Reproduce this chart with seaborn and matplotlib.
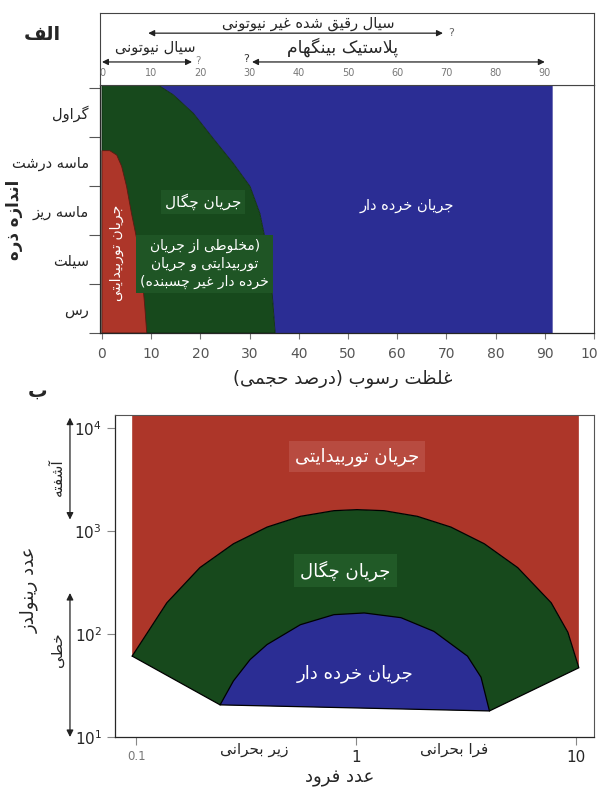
import matplotlib
matplotlib.use("Agg")
import matplotlib.pyplot as plt
import seaborn as sns

# ---------------- panel الف : concentration vs grain size ----------------
size_classes = ["رس", "سیلت", "ماسه ریز", "ماسه درشت", "گراول"]
size_edges = [0, 1, 2, 3, 4, 5]
size_top = 5.06
conc_ticks = [0, 10, 20, 30, 40, 50, 60, 70, 80, 90, 100]
header_ticks = [0, 10, 20, 30, 40, 50, 60, 70, 80, 90]

# turbidity current (red) outline
turb_conc = [0, 0, 1.6, 3.0, 4.0, 5.0, 6.0, 7.1, 8.1, 8.7, 9.1]
turb_size = [0, 3.72, 3.72, 3.63, 3.40, 2.99, 2.44, 1.90, 1.22, 0.54, 0]

# dense flow / debris flow boundary (green | blue)
dense_conc = [11.4, 14.5, 18.6, 22.6, 26.7, 30.1, 32.1, 33.5, 34.5, 35.2]
dense_size = [5.06, 4.86, 4.48, 3.97, 3.46, 2.99, 2.44, 1.76, 0.95, 0]
debris_limit = 91.6

# ---------------- panel ب : Froude vs Reynolds ----------------
froude_ticks = [0.1, 1, 10]
reynolds_ticks = [10, 100, 1000, 10000]
froude_lim = (0.0802, 12.07)
reynolds_lim = (10, 13360)

outer_fr = [0.096, 0.138, 0.195, 0.277, 0.394, 0.558, 0.793, 1.01, 1.34,
            1.90, 2.70, 3.83, 5.43, 7.71, 9.18, 10.3]
outer_re = [61, 201, 441, 751, 1091, 1387, 1574, 1611, 1574,
            1387, 1091, 751, 441, 201, 104, 47]
inner_fr = [0.241, 0.277, 0.330, 0.394, 0.558, 0.793, 1.09, 1.60, 2.26,
            3.21, 3.70, 4.04]
inner_re = [20.5, 35, 56.5, 79, 123, 154, 160, 144, 106, 61, 38, 17.9]

RED = "#ad3629"
GREEN = "#17491c"
BLUE = "#2b2d94"

# --- minimal Persian shaping (matplotlib has no complex text layout) ---
_forms = {
    "ا": (0xFE8D, 0xFE8E), "آ": (0xFE81, 0xFE82),
    "د": (0xFEA9, 0xFEAA), "ذ": (0xFEAB, 0xFEAC), "ر": (0xFEAD, 0xFEAE),
    "ز": (0xFEAF, 0xFEB0), "ژ": (0xFB8A, 0xFB8B), "و": (0xFEED, 0xFEEE),
    "ب": (0xFE8F, 0xFE90, 0xFE91, 0xFE92), "پ": (0xFB56, 0xFB57, 0xFB58, 0xFB59),
    "ت": (0xFE95, 0xFE96, 0xFE97, 0xFE98), "ث": (0xFE99, 0xFE9A, 0xFE9B, 0xFE9C),
    "ج": (0xFE9D, 0xFE9E, 0xFE9F, 0xFEA0), "چ": (0xFB7A, 0xFB7B, 0xFB7C, 0xFB7D),
    "ح": (0xFEA1, 0xFEA2, 0xFEA3, 0xFEA4), "خ": (0xFEA5, 0xFEA6, 0xFEA7, 0xFEA8),
    "س": (0xFEB1, 0xFEB2, 0xFEB3, 0xFEB4), "ش": (0xFEB5, 0xFEB6, 0xFEB7, 0xFEB8),
    "ص": (0xFEB9, 0xFEBA, 0xFEBB, 0xFEBC), "ض": (0xFEBD, 0xFEBE, 0xFEBF, 0xFEC0),
    "ط": (0xFEC1, 0xFEC2, 0xFEC3, 0xFEC4), "ظ": (0xFEC5, 0xFEC6, 0xFEC7, 0xFEC8),
    "ع": (0xFEC9, 0xFECA, 0xFECB, 0xFECC), "غ": (0xFECD, 0xFECE, 0xFECF, 0xFED0),
    "ف": (0xFED1, 0xFED2, 0xFED3, 0xFED4), "ق": (0xFED5, 0xFED6, 0xFED7, 0xFED8),
    "ک": (0xFB8E, 0xFB8F, 0xFB90, 0xFB91), "گ": (0xFB92, 0xFB93, 0xFB94, 0xFB95),
    "ل": (0xFEDD, 0xFEDE, 0xFEDF, 0xFEE0), "م": (0xFEE1, 0xFEE2, 0xFEE3, 0xFEE4),
    "ن": (0xFEE5, 0xFEE6, 0xFEE7, 0xFEE8), "ه": (0xFEE9, 0xFEEA, 0xFEEB, 0xFEEC),
    "ی": (0xFBFC, 0xFBFD, 0xFBFE, 0xFBFF),
}
_lam_alef = {"ا": (0xFEFB, 0xFEFC), "آ": (0xFEF5, 0xFEF6)}
_mirror = {"(": ")", ")": "("}


def _shape_line(s):
    out = []
    prev_joins = False
    i = 0
    while i < len(s):
        c = s[i]
        f = _forms.get(c)
        if f is None:
            out.append(_mirror.get(c, c))
            prev_joins = False
            i += 1
            continue
        if c == "ل" and i + 1 < len(s) and s[i + 1] in _lam_alef:
            iso, fin = _lam_alef[s[i + 1]]
            out.append(chr(fin if prev_joins else iso))
            prev_joins = False
            i += 2
            continue
        nxt = s[i + 1] if i + 1 < len(s) else ""
        to_next = len(f) == 4 and nxt in _forms
        if prev_joins:
            g = f[3] if to_next else f[1]
        else:
            g = f[2] if to_next else f[0]
        out.append(chr(g))
        prev_joins = len(f) == 4
        i += 1
    return "".join(reversed(out))


def fa(text):
    return "\n".join(_shape_line(line) for line in text.split("\n"))


sns.set_style("ticks")
plt.rcParams["font.family"] = ["DejaVu Sans"]
plt.rcParams["axes.linewidth"] = 0.9

fig = plt.figure(figsize=(5.98, 7.93), dpi=100)
W, H = 598.0, 793.0

# ======================= panel الف =======================
ax = fig.add_axes([100 / W, 1 - 333 / H, 494 / W, 248 / H])
head = fig.add_axes([100 / W, 1 - 85 / H, 494 / W, 72 / H], sharex=ax)

blue_x = dense_conc + [debris_limit, debris_limit]
blue_y = dense_size + [0, size_top]
ax.fill(blue_x, blue_y, color=BLUE, lw=0)
ax.fill([0, 0] + dense_conc, [0, size_top] + dense_size, color=GREEN,
        ec="#0d2a10", lw=0.6)
ax.fill(turb_conc, turb_size, color=RED, ec="#5a1a12", lw=0.6)

ax.set_xlim(-0.4, 100)
ax.set_ylim(0, size_top)
ax.set_xticks(conc_ticks)
ax.set_xticklabels([str(t) for t in conc_ticks], fontsize=10, color="#555555")
ax.tick_params(axis="x", which="major", length=4, color="#777777", pad=6,
               top=False)

ax.set_yticks(size_edges)
ax.set_yticklabels([])
ax.set_yticks([e + 0.5 for e in size_edges[:-1]], minor=True)
ax.set_yticklabels([fa(s) for s in size_classes], minor=True, fontsize=10.5)
ax.tick_params(axis="y", which="major", length=8, color="#555555")
ax.tick_params(axis="y", which="minor", length=0, pad=8)

# upper scale inside the header box
ax.set_xticks(header_ticks, minor=True)
ax.tick_params(axis="x", which="minor", top=True, bottom=False, length=5,
               color="#777777", direction="out")
for t in header_ticks:
    head.text(t, 0.16, str(t), ha="center", va="center", fontsize=7,
              color="#777777")

for sp in ["top", "right"]:
    ax.spines[sp].set_color("#444444")
    ax.spines[sp].set_linewidth(0.8)

ax.text(62, 2.6, fa("جریان خرده دار"), color="white", fontsize=10.5,
        ha="center", va="center")
ax.text(20.5, 2.67, fa("جریان چگال"), color="white", fontsize=11,
        ha="center", va="center",
        bbox=dict(boxstyle="square,pad=0.25", fc="#1f5525", ec="none"))
ax.text(20.9, 1.41, fa("(مخلوطی از جریان\nتوربیدایتی و جریان\nخرده دار غیر چسبنده)"),
        color="white", fontsize=10, ha="center", va="center",
        multialignment="center", linespacing=1.35,
        bbox=dict(boxstyle="square,pad=0.3", fc="#1f5525", ec="none"))
ax.text(3.1, 1.63, fa("جریان توربیدایتی"), color="white", fontsize=10,
        rotation=90, ha="center", va="center")

ax.set_xlabel(fa("غلظت رسوب (درصد حجمی)"), fontsize=13)
ax.xaxis.set_label_coords(0.492, -0.148)
ax.set_ylabel(fa("اندازه ذره"), fontsize=12, fontweight="bold")
ax.yaxis.set_label_coords(-0.156, 0.456)

# header box
head.set_ylim(0, 1)
head.tick_params(left=False, bottom=False, labelleft=False, labelbottom=False)
for sp in head.spines.values():
    sp.set_color("#444444")
    sp.set_linewidth(0.8)

arrow = dict(arrowstyle="<|-|>", color="#222222", lw=0.9, mutation_scale=9,
             shrinkA=0, shrinkB=0)
head.annotate("", xy=(69.3, 0.72), xytext=(9.4, 0.72), arrowprops=arrow)
head.annotate("", xy=(18.3, 0.32), xytext=(0, 0.32), arrowprops=arrow)
head.annotate("", xy=(90, 0.32), xytext=(30.5, 0.32), arrowprops=arrow)
head.text(70.4, 0.72, "?", fontsize=8, color="#666666", va="center")
head.text(19.0, 0.34, "?", fontsize=7.5, color="#888888", va="center")
head.text(29.8, 0.36, "?", fontsize=8, color="#333333", va="center", ha="right")
head.text(42, 0.86, fa("سیال رقیق شده غیر نیوتونی"), fontsize=10.5,
          ha="center", va="center")
head.text(10.8, 0.52, fa("سیال نیوتونی"), fontsize=10.5, ha="center",
          va="center")
head.text(48.8, 0.53, fa("پلاستیک بینگهام"), fontsize=12.5, ha="center",
          va="center")

fig.text(42 / W, 1 - 35 / H, fa("الف"), fontsize=14, fontweight="bold",
         ha="center", va="center")

# ======================= panel ب =======================
axb = fig.add_axes([115 / W, 1 - 737 / H, 479 / W, 322 / H])
axb.set_xscale("log")
axb.set_yscale("log")
axb.set_xlim(*froude_lim)
axb.set_ylim(*reynolds_lim)

red_x = [outer_fr[0], outer_fr[-1]] + outer_fr[::-1]
red_y = [reynolds_lim[1], reynolds_lim[1]] + outer_re[::-1]
axb.fill(red_x, red_y, color=RED, lw=0)
green_x = outer_fr + [inner_fr[-1], inner_fr[0]]
green_y = outer_re + [inner_re[-1], inner_re[0]]
axb.fill(green_x, green_y, color=GREEN, lw=0)
axb.fill(inner_fr, inner_re, color=BLUE, lw=0)

# outlines
sns.lineplot(x=green_x + [green_x[0]], y=green_y + [green_y[0]], sort=False,
             estimator=None, color="black", lw=0.9, ax=axb)
sns.lineplot(x=inner_fr, y=inner_re, sort=False, estimator=None,
             color="black", lw=0.9, ax=axb)

axb.set_yticks(reynolds_ticks)
axb.set_yticklabels([r"$\mathdefault{10^{%d}}$" % k for k in range(1, 5)],
                    fontsize=11)
axb.yaxis.set_minor_locator(matplotlib.ticker.NullLocator())
axb.set_xticks(froude_ticks)
axb.set_xticklabels(["0.1", "1", "10"])
axb.xaxis.set_minor_locator(matplotlib.ticker.NullLocator())
xl = axb.get_xticklabels()
xl[0].set_fontsize(8.5)
xl[0].set_color("#777777")
for lab in xl[1:]:
    lab.set_fontsize(11)
axb.tick_params(axis="both", length=6, color="#888888")
for sp in ["top", "right"]:
    axb.spines[sp].set_color("#555555")
    axb.spines[sp].set_linewidth(0.8)

axb.text(1.01, 5250, fa("جریان توربیدایتی"), color="white", fontsize=13,
         ha="center", va="center",
         bbox=dict(boxstyle="square,pad=0.35", fc="#b84b40", ec="none"))
axb.text(0.895, 413, fa("جریان چگال"), color="white", fontsize=13,
         ha="center", va="center",
         bbox=dict(boxstyle="square,pad=0.35", fc="#215a27", ec="none"))
axb.text(0.995, 40.7, fa("جریان خرده دار"), color="white", fontsize=13,
         ha="center", va="center")

xtr = axb.get_xaxis_transform()
axb.text(0.343, -0.04, fa("زیر بحرانی"), transform=xtr, fontsize=11,
         ha="center", va="center")
axb.text(2.8, -0.04, fa("فرا بحرانی"), transform=xtr, fontsize=11,
         ha="center", va="center")
axb.set_xlabel(fa("عدد فرود"), fontsize=13)
axb.xaxis.set_label_coords(0.468, -0.098)
axb.set_ylabel(fa("عدد رینولدز"), fontsize=13)
axb.yaxis.set_label_coords(-0.16, 0.457)

ytr = axb.get_yaxis_transform()
arrow_b = dict(arrowstyle="<|-|>", color="#222222", lw=0.9, mutation_scale=10,
               shrinkA=0, shrinkB=0)
axb.annotate("", xy=(-0.094, 12600), xytext=(-0.094, 1290), xycoords=ytr,
             textcoords=ytr, arrowprops=arrow_b, annotation_clip=False)
axb.annotate("", xy=(-0.094, 250), xytext=(-0.094, 10), xycoords=ytr,
             textcoords=ytr, arrowprops=arrow_b, annotation_clip=False)
axb.text(-0.121, 3300, fa("آشفته"), transform=ytr, fontsize=11, rotation=90,
         ha="center", va="center")
axb.text(-0.121, 70, fa("خطی"), transform=ytr, fontsize=11, rotation=90,
         ha="center", va="center")

fig.text(38 / W, 1 - 391 / H, fa("ب"), fontsize=14, fontweight="bold",
         ha="center", va="center")

fig.savefig("out.png", dpi=100)
